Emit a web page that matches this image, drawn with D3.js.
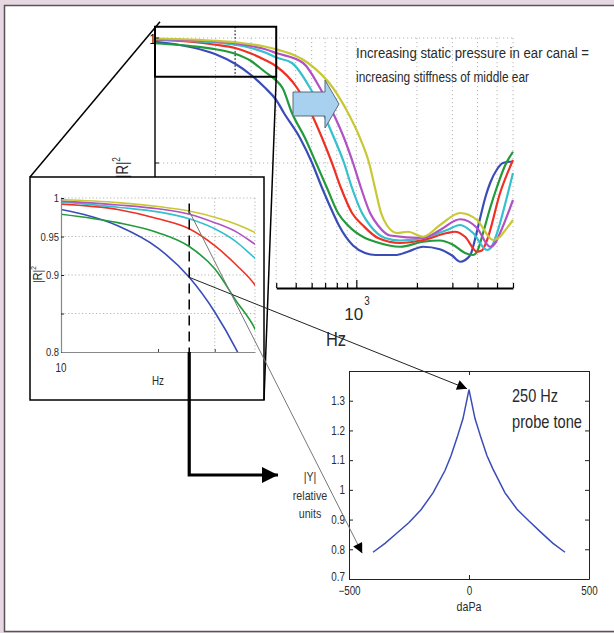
<!DOCTYPE html>
<html>
<head>
<meta charset="utf-8">
<script src="https://cdn.jsdelivr.net/npm/d3@7"></script>
<style>
  html, body { margin: 0; overflow: hidden; background: #fff; }
  svg { display: block; font-family: "Liberation Sans", Arial, sans-serif; }
</style>
</head>
<body>
<svg id="fig" width="614" height="633"></svg>
<script>
// |R|^2 vs frequency (Hz), one curve per static pressure step
const seriesColors = ["#3a4cb8", "#229a3b", "#ee3124", "#34c0cd", "#b052c4", "#c8c834"];
const blueR2 = [[100, .985], [150, .964], [200, .935], [250, .897], [300, .852], [350, .803], [400, .752],
  [437, .70], [525, .60], [603, .50], [676, .40], [766, .30], [820, .25], [963, .17], [1105, .14], [1250, .132],
  [1560, .132], [1800, .145], [2145, .165], [2600, .155], [2990, .13], [3280, .105], [3670, .13], [3900, .20],
  [4120, .28], [4400, .37], [4620, .42], [5000, .475], [5350, .50], [5800, .505], [6000, .505]];
const greenR2 = [[100, .979], [150, .968], [200, .955], [250, .937], [300, .908], [350, .866], [400, .83],
  [430, .80], [479, .70], [556, .60], [631, .50], [715, .40], [811, .30], [910, .25], [1105, .20], [1240, .185],
  [1650, .165], [2145, .185], [2600, .19], [2990, .175], [3467, .14], [3800, .132], [4000, .15], [4260, .22],
  [4620, .32], [5000, .405], [5480, .49], [6000, .545]];
const redR2 = [[100, .992], [150, .985], [200, .973], [250, .96], [300, .938], [350, .913], [400, .887],
  [508, .80], [596, .70], [676, .60], [757, .50], [839, .40], [952, .30], [1080, .25], [1282, .20], [1650, .18],
  [2145, .192], [2822, .22], [3093, .225], [3467, .205], [3978, .145], [4200, .15], [4461, .192], [5175, .38],
  [6000, .512]];
const cyanR2 = [[100, .995], [150, .988], [200, .982], [250, .973], [300, .96], [350, .943], [400, .922],
  [479, .90], [589, .80], [683, .70], [775, .60], [869, .50], [952, .40], [1067, .30], [1170, .25], [1389, .20],
  [1650, .19], [2145, .20], [2822, .232], [3275, .252], [3800, .22], [4461, .152], [4650, .16], [5000, .22],
  [5500, .34], [6000, .46]];
const magentaR2 = [[100, .996], [150, .991], [200, .986], [250, .979], [300, .968], [350, .956], [400, .94],
  [544, .90], [660, .80], [766, .70], [869, .60], [963, .50], [1055, .40], [1170, .30], [1282, .25], [1471, .21],
  [2145, .20], [2605, .232], [3275, .275], [3978, .24], [4617, .165], [4900, .18], [5175, .22], [6000, .352]];
const yellowR2 = [[100, .998], [150, .994], [200, .989], [250, .983], [300, .975], [350, .966], [400, .955],
  [576, .90], [766, .80], [910, .70], [1043, .60], [1157, .50], [1238, .40], [1327, .30], [1421, .25], [1594, .22],
  [1806, .225], [2145, .205], [2605, .252], [3275, .30], [3978, .272], [4777, .192], [5175, .205], [5356, .22],
  [6000, .272]];
const seriesR2 = [blueR2, greenR2, redR2, cyanR2, magentaR2, yellowR2];

const mainGridHz = [200, 300, 400, 500, 600, 700, 800, 900, 1000, 2000, 3000, 4000, 5000, 6000];
const mainTickHz = [400, 500, 600, 700, 800, 900, 1000, 2000, 3000, 4000, 5000, 6000];
const mainGridR2 = [0.5, 1];
const insetTickR2 = [0.8, 0.85, 0.9, 0.95, 1];
const insetTickLabels = ["0.8", "", "0.9", "0.95", "1"];
const insetGridR2 = [0.85, 0.9, 0.95, 1];
const insetGridHz = [300, 400];
const insetTickHz = [200, 300];
const probeHz = 250;

// tympanogram, 250 Hz probe tone
const tympDaPa = [-400, -350, -300, -250, -200, -150, -100, -75, -50, -25, 0, 25, 50, 75, 100, 150, 200, 250, 300, 350, 400];
const tympY = [0.79, 0.82, 0.855, 0.89, 0.933, 0.99, 1.065, 1.115, 1.175, 1.24, 1.337, 1.24, 1.175, 1.115, 1.07, 0.99, 0.935, 0.895, 0.857, 0.82, 0.79];
const tympTickY = [0.7, 0.8, 0.9, 1, 1.1, 1.2, 1.3];
const tympTickX = [-500, 0, 500];

const svg = d3.select("#fig");
const grid = "#b5b5b5";
const ink = "#2a2a2a";

// page: pink margin, white panel framed on top, left and bottom
svg.append("rect").attr("width", 614).attr("height", 633).attr("fill", "#e7d7e3");
svg.append("rect").attr("x", 4.5).attr("y", 5.5).attr("width", 612).attr("height", 626).attr("fill", "#fff");
svg.append("path").attr("d", "M614,5.5H4.5V631.5H614").attr("fill", "none")
  .attr("stroke", "#555").attr("stroke-width", 1.5);

const defs = svg.append("defs");
defs.append("marker").attr("id", "ah").attr("viewBox", "0 0 10 10").attr("refX", 10).attr("refY", 5)
  .attr("markerUnits", "userSpaceOnUse").attr("markerWidth", 13).attr("markerHeight", 10).attr("orient", "auto")
  .append("path").attr("d", "M0,0L10,5L0,10z").attr("fill", "#000");
defs.append("marker").attr("id", "ahBig").attr("viewBox", "0 0 10 10").attr("refX", 10).attr("refY", 5)
  .attr("markerUnits", "userSpaceOnUse").attr("markerWidth", 17).attr("markerHeight", 16).attr("orient", "auto")
  .append("path").attr("d", "M0,0L10,5L0,10z").attr("fill", "#000");

// ---------- main plot ----------
const xMain = d3.scaleLog().domain([100, 6000]).range([155, 513]);
const yMain = d3.scaleLinear().domain([0, 1]).range([288, 38]);
const zoomTop = yMain(1.045), zoomBot = yMain(0.845);

const gm = svg.append("g");
gm.selectAll(".vg").data(mainGridHz).join("line")
  .attr("x1", d => xMain(d)).attr("x2", d => xMain(d)).attr("y1", yMain(1)).attr("y2", yMain(0))
  .attr("stroke", grid).attr("stroke-dasharray", "1.2,2.8");
gm.selectAll(".hg").data(mainGridR2).join("line")
  .attr("x1", xMain(100)).attr("x2", xMain(6000)).attr("y1", d => yMain(d)).attr("y2", d => yMain(d))
  .attr("stroke", grid).attr("stroke-dasharray", "1.2,2.8");
gm.append("line").attr("x1", xMain(probeHz)).attr("x2", xMain(probeHz)).attr("y1", zoomTop).attr("y2", zoomBot)
  .attr("stroke", "#222").attr("stroke-width", 1.3).attr("stroke-dasharray", "1.5,2");

const lineMain = d3.line().x(d => xMain(d[0])).y(d => yMain(d[1])).curve(d3.curveMonotoneX);
gm.selectAll(".c").data(seriesR2).join("path")
  .attr("d", lineMain).attr("fill", "none")
  .attr("stroke", (d, i) => seriesColors[i]).attr("stroke-width", 2.2);

// left axis
gm.append("line").attr("x1", xMain(100)).attr("x2", xMain(100)).attr("y1", zoomTop).attr("y2", yMain(0))
  .attr("stroke", "#111").attr("stroke-width", 1.5);
gm.selectAll(".yt").data(mainGridR2).join("line")
  .attr("x1", xMain(100)).attr("x2", xMain(100) + 4).attr("y1", d => yMain(d)).attr("y2", d => yMain(d))
  .attr("stroke", "#111");
gm.append("text").text("1").attr("x", xMain(100) + 1).attr("y", yMain(1) + 6)
  .attr("text-anchor", "end").style("font-size", "14px");

// zoom box
gm.append("rect").attr("x", xMain(100)).attr("y", zoomTop)
  .attr("width", xMain(400) - xMain(100)).attr("height", zoomBot - zoomTop)
  .attr("fill", "none").attr("stroke", "#000").attr("stroke-width", 2);

// bottom axis
const xAxisScale = xMain.copy().domain([400, 6000]).range([xMain(400), xMain(6000)]);
const xa = gm.append("g").attr("transform", `translate(0,${yMain(0)})`)
  .call(d3.axisTop(xAxisScale).tickValues(mainTickHz).tickSize(5).tickSizeOuter(0).tickFormat(""));
xa.select(".domain").attr("stroke", "#000").attr("stroke-width", 2.2);
xa.selectAll(".tick line").attr("stroke", "#000").attr("stroke-width", 1.2).attr("y2", d => d === 1000 ? -8 : -5);

gm.append("text").text("10").attr("x", xMain(1000) - 12).attr("y", 320).attr("class", "wide")
  .style("font-size", "17px").attr("fill", ink);
gm.append("text").text("3").attr("x", xMain(1000) + 8).attr("y", 305).style("font-size", "12px").attr("fill", ink);
gm.append("text").text("Hz").attr("x", 326).attr("y", 346).style("font-size", "20px").attr("fill", ink);

const yl = gm.append("text").attr("transform", "translate(128,178) rotate(-90)").style("font-size", "16px").attr("fill", ink);
yl.append("tspan").text("|R|");
yl.append("tspan").text("2").attr("dy", -8).style("font-size", "10px");

// block arrow
gm.append("path")
  .attr("d", "M293,92H325V80L339,104L325,128V116H293Z")
  .attr("fill", "#a8d0ef").attr("stroke", "#5a6a7a").attr("stroke-width", 1);

gm.append("text").text("Increasing static pressure in ear canal =")
  .attr("x", 356).attr("y", 58).attr("textLength", 233)
  .style("font-size", "14px").attr("fill", ink);
gm.append("text").text("increasing stiffness of middle ear")
  .attr("x", 356).attr("y", 82).attr("textLength", 173)
  .style("font-size", "14px").attr("fill", ink);

// ---------- inset ----------
const inBox = { x: 30, y: 177, w: 234, h: 223 };
const gi = svg.append("g");
gi.append("rect").attr("x", inBox.x).attr("y", inBox.y).attr("width", inBox.w).attr("height", inBox.h)
  .attr("fill", "#fff").attr("stroke", "#000").attr("stroke-width", 1.5);

// connectors from zoom box to inset box
gi.append("line").attr("x1", xMain(100) + 5).attr("y1", zoomTop - 5).attr("x2", inBox.x).attr("y2", inBox.y)
  .attr("stroke", "#000").attr("stroke-width", 1.5);
gi.append("line").attr("x1", xMain(400)).attr("y1", zoomBot).attr("x2", inBox.x + inBox.w).attr("y2", inBox.y + inBox.h)
  .attr("stroke", "#000").attr("stroke-width", 1.5);

const xIn = d3.scaleLog().domain([100, 400]).range([61, 255]);
const yIn = d3.scaleLinear().domain([0.8, 1]).range([352, 198]);

gi.selectAll(".ihg").data(insetGridR2).join("line")
  .attr("x1", xIn(100)).attr("x2", xIn(400)).attr("y1", d => yIn(d)).attr("y2", d => yIn(d))
  .attr("stroke", grid).attr("stroke-dasharray", "1.2,2.3");
gi.selectAll(".ivg").data(insetGridHz).join("line")
  .attr("x1", d => xIn(d)).attr("x2", d => xIn(d)).attr("y1", yIn(1)).attr("y2", yIn(0.8))
  .attr("stroke", grid).attr("stroke-dasharray", "1.2,2.3");

defs.append("clipPath").attr("id", "inClip").append("rect")
  .attr("x", xIn(100)).attr("y", yIn(1.01)).attr("width", xIn(400) - xIn(100)).attr("height", yIn(0.8) - yIn(1.01));
const lineIn = d3.line().x(d => xIn(d[0])).y(d => yIn(d[1])).curve(d3.curveMonotoneX);
gi.append("g").attr("clip-path", "url(#inClip)")
  .selectAll("path").data(seriesR2.map(s => s.filter(d => d[0] <= 700))).join("path")
  .attr("d", lineIn).attr("fill", "none")
  .attr("stroke", (d, i) => seriesColors[i]).attr("stroke-width", 1.6);

const ia = gi.append("g").attr("transform", `translate(${xIn(100)},0)`)
  .call(d3.axisLeft(yIn).tickValues(insetTickR2).tickSize(-3).tickSizeOuter(0).tickPadding(2)
    .tickFormat((d, i) => insetTickLabels[i]));
ia.select(".domain").attr("stroke", "#888").attr("stroke-width", 1.2);
ia.selectAll(".tick line").attr("stroke", "#222");
ia.selectAll("text").style("font-size", "11.5px").attr("fill", ink).attr("font-family", null);

const ib = gi.append("g").attr("transform", `translate(0,${yIn(0.8)})`)
  .call(d3.axisBottom(xIn).tickValues(insetTickHz).tickSize(-3).tickSizeOuter(0).tickFormat(""));
ib.select(".domain").attr("stroke", "#888").attr("stroke-width", 1.2);
ib.selectAll(".tick line").attr("stroke", "#444");

gi.append("text").text("10").attr("x", xIn(100)).attr("y", 372).attr("text-anchor", "middle").style("font-size", "12px").attr("fill", ink);
gi.append("text").text("Hz").attr("x", 158).attr("y", 385).attr("text-anchor", "middle").style("font-size", "12px").attr("fill", ink);
const iyl = gi.append("text").attr("transform", "translate(42,283) rotate(-90)").style("font-size", "13px").attr("fill", ink);
iyl.append("tspan").text("|R|");
iyl.append("tspan").text("2").attr("dy", -6).style("font-size", "8px");

// probe-tone marker in the inset
gi.append("line").attr("x1", xIn(probeHz)).attr("x2", xIn(probeHz)).attr("y1", yIn(0.993)).attr("y2", yIn(0.8))
  .attr("stroke", "#000").attr("stroke-width", 1.5).attr("stroke-dasharray", "10,6");

// ---------- tympanogram ----------
const xT = d3.scaleLinear().domain([-500, 500]).range([349, 589]);
const yT = d3.scaleLinear().domain([0.7, 1.4]).range([579, 371]);
const gt = svg.append("g");

const axL = gt.append("g").attr("transform", `translate(${xT(-500)},0)`)
  .call(d3.axisLeft(yT).tickValues(tympTickY).tickSize(-4).tickSizeOuter(0).tickPadding(4)
    .tickFormat(d => d === 1 ? "1" : d3.format(".1f")(d)));
const axR = gt.append("g").attr("transform", `translate(${xT(500)},0)`)
  .call(d3.axisRight(yT).tickValues(tympTickY).tickSize(-4).tickSizeOuter(0).tickFormat(""));
const axB = gt.append("g").attr("transform", `translate(0,${yT(0.7)})`)
  .call(d3.axisBottom(xT).tickValues(tympTickX).tickSize(-4).tickSizeOuter(0).tickPadding(7)
    .tickFormat(d => d3.format("d")(d)));
const axT = gt.append("g").attr("transform", `translate(0,${yT(1.4)})`)
  .call(d3.axisTop(xT).tickValues(tympTickX).tickSize(-4).tickSizeOuter(0).tickFormat(""));
[axL, axR, axB, axT].forEach(a => {
  a.select(".domain").attr("stroke", "#222").attr("stroke-width", 1);
  a.selectAll(".tick line").attr("stroke", "#222");
  a.selectAll("text").style("font-size", "12px").attr("fill", ink).attr("font-family", null);
});
axL.selectAll(".tick text").filter(d => d === 0.7).attr("dy", "0.1em");

const lineT = d3.line().x(d => xT(d[0])).y(d => yT(d[1]));
gt.append("path").datum(tympDaPa.map((p, i) => [p, tympY[i]]))
  .attr("d", lineT).attr("fill", "none").attr("stroke", seriesColors[0]).attr("stroke-width", 1.5);

gt.append("text").text("daPa").attr("x", xT(0)).attr("y", 611).attr("text-anchor", "middle").style("font-size", "13px").attr("fill", ink);
gt.append("text").text("250 Hz").attr("x", 512).attr("y", 402)
  .attr("textLength", 46).style("font-size", "19px").attr("fill", ink);
gt.append("text").text("probe tone").attr("x", 512).attr("y", 428)
  .attr("textLength", 70).style("font-size", "19px").attr("fill", ink);

["|Y|", "relative", "units"].forEach((t, i) =>
  gt.append("text").text(t).attr("x", 310).attr("y", 481 + i * 18.5)
    .attr("text-anchor", "middle").style("font-size", "13px").attr("fill", "#333"));

// ---------- linking arrows ----------
const blueAt250 = blueR2.find(d => d[0] === probeHz)[1];
const yellowAt250 = yellowR2.find(d => d[0] === probeHz)[1];
const peak = d3.max(tympY);
svg.append("line").attr("x1", xIn(probeHz)).attr("y1", yIn(blueAt250))
  .attr("x2", xT(0) - 2).attr("y2", yT(peak) - 1)
  .attr("stroke", "#222").attr("stroke-width", 1).attr("marker-end", "url(#ah)");
svg.append("line").attr("x1", xIn(probeHz)).attr("y1", yIn(yellowAt250))
  .attr("x2", xT(-445)).attr("y2", yT(0.787))
  .attr("stroke", "#777").attr("stroke-width", 1).attr("marker-end", "url(#ah)");
svg.append("path")
  .attr("d", `M${xIn(probeHz)},${yIn(0.8)}V475H278`)
  .attr("fill", "none").attr("stroke", "#000").attr("stroke-width", 3.2).attr("marker-end", "url(#ahBig)");

// narrow face: squeeze labels horizontally, like the condensed type of the original
svg.selectAll("text").each(function () {
  if (this.classList.contains("wide")) return;
  if (!this.hasAttribute("textLength")) {
    this.setAttribute("textLength", (this.getComputedTextLength() * 0.82).toFixed(1));
  }
  this.setAttribute("lengthAdjust", "spacingAndGlyphs");
});
</script>
</body>
</html>
